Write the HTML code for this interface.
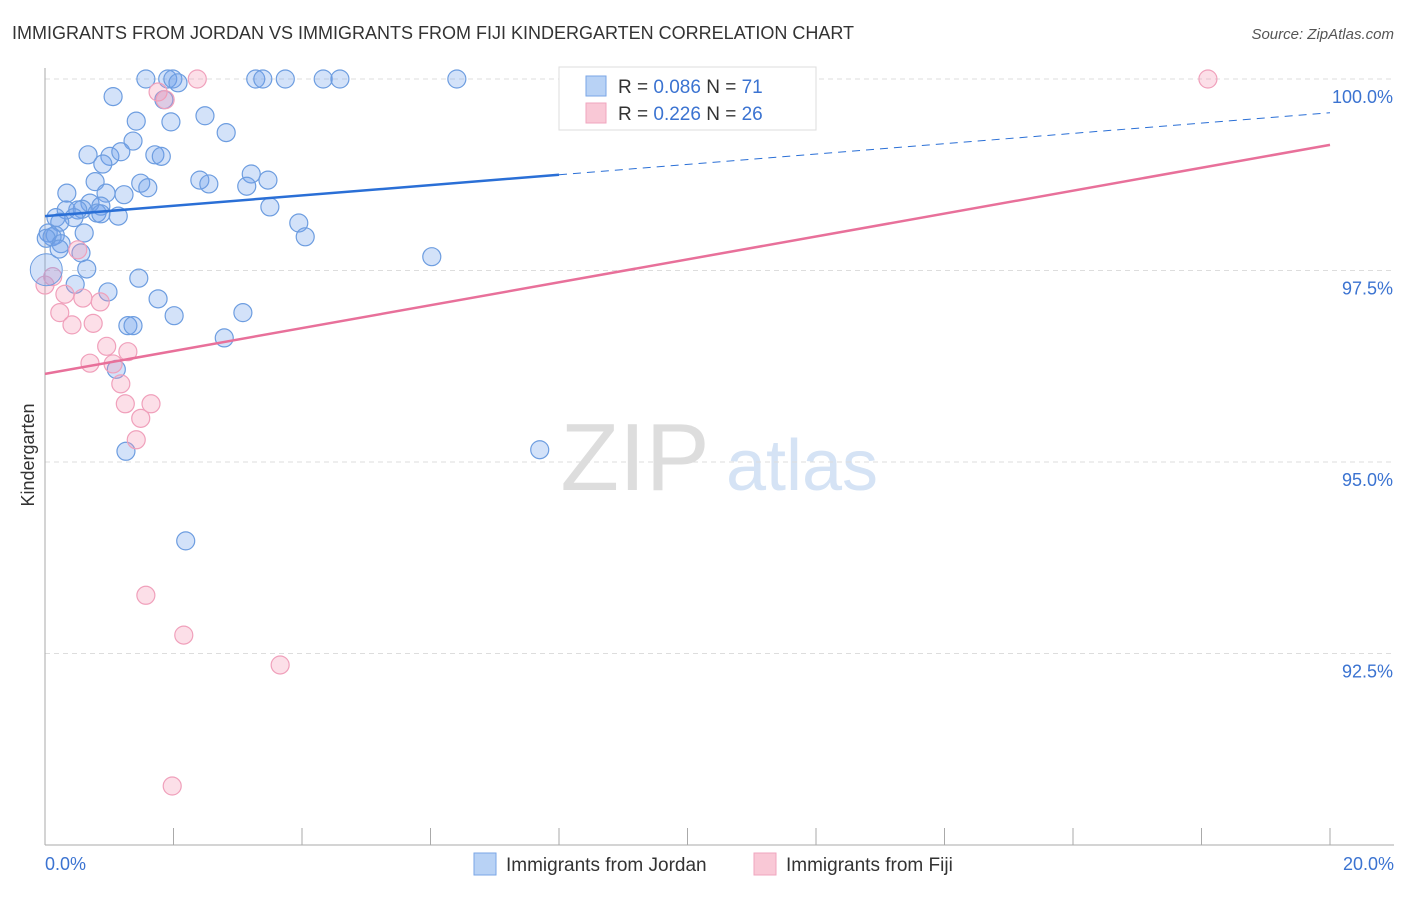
<!DOCTYPE html>
<html><head><meta charset="utf-8"><style>
body{margin:0;background:#fff;font-family:"Liberation Sans",sans-serif}
svg text{font-family:"Liberation Sans",sans-serif}
</style></head><body>
<svg width="1406" height="892" xmlns="http://www.w3.org/2000/svg">
<text x="12" y="39" font-size="18" fill="#333">IMMIGRANTS FROM JORDAN VS IMMIGRANTS FROM FIJI KINDERGARTEN CORRELATION CHART</text>
<text x="1394" y="39" font-size="15" fill="#555" font-style="italic" text-anchor="end">Source: ZipAtlas.com</text>
<g>
<text x="635" y="490" font-size="96" fill="#ddd" font-family="Liberation Serif" text-anchor="middle">ZIP</text>
<text x="802" y="490" font-size="72" fill="#d5e3f5" text-anchor="middle">atlas</text>
</g>
<g id="grid"></g>
<g id="axes"></g>
<g id="marks"></g>
<text x="34" y="455" font-size="18" fill="#333" text-anchor="middle" transform="rotate(-90 34 455)">Kindergarten</text>
<g>
<rect x="559" y="67" width="257" height="63" fill="#fff" stroke="#ddd"/>
<rect x="586" y="76" width="20" height="20" fill="#b8d2f5" stroke="#7aa6e6"/>
<rect x="586" y="103" width="20" height="20" fill="#f9c8d6" stroke="#f0a6bf"/>
<text x="618" y="93" font-size="19" fill="#333">R = <tspan fill="#3b73d1">0.086</tspan>   N = <tspan fill="#3b73d1">71</tspan></text>
<text x="618" y="120" font-size="19" fill="#333">R = <tspan fill="#3b73d1">0.226</tspan>   N = <tspan fill="#3b73d1">26</tspan></text>
</g>
<g>
<rect x="474" y="853" width="22" height="22" fill="#b8d2f5" stroke="#7aa6e6"/>
<text x="506" y="871" font-size="19" fill="#333">Immigrants from Jordan</text>
<rect x="754" y="853" width="22" height="22" fill="#f9c8d6" stroke="#f0a6bf"/>
<text x="786" y="871" font-size="19" fill="#333">Immigrants from Fiji</text>
</g>
</svg>
<script>
const jordanX=[1.57,1.91,1.99,2.07,3.28,3.39,3.74,4.33,4.59,6.41,1.06,1.85,1.42,1.96,2.49,2.82,1.37,0.67,1.01,1.18,1.71,1.81,0.90,3.21,3.47,2.41,2.55,3.14,1.49,1.60,0.78,0.34,0.95,1.23,0.70,0.87,0.58,0.33,0.51,0.81,0.87,1.14,0.17,0.45,0.23,3.50,3.95,4.05,0.61,0.05,0.16,0.11,0.02,0.25,0.22,0.56,0.65,1.46,0.47,0.98,1.76,2.01,3.08,1.29,1.37,2.79,1.11,6.02,1.26,7.70,2.19];
const jordanY=[100,100,100,99.95,100,100,100,100,100,100,99.77,99.73,99.45,99.44,99.52,99.30,99.19,99.01,98.99,99.05,99.01,98.99,98.89,98.76,98.68,98.68,98.63,98.60,98.64,98.58,98.66,98.51,98.51,98.49,98.38,98.34,98.30,98.29,98.29,98.25,98.24,98.21,98.19,98.19,98.13,98.33,98.12,97.94,97.99,97.99,97.96,97.94,97.92,97.85,97.78,97.73,97.52,97.40,97.32,97.22,97.13,96.91,96.95,96.78,96.78,96.62,96.21,97.68,95.14,95.16,93.97];
const fijiX=[2.37,18.10,1.76,1.87,0.12,0.00,0.31,0.59,0.86,0.23,0.42,0.75,0.96,1.29,0.70,1.06,1.18,1.25,1.65,1.49,1.42,1.57,2.16,3.66,1.98,0.51];
const fijiY=[100,100,99.83,99.73,97.42,97.31,97.19,97.14,97.09,96.95,96.79,96.81,96.51,96.44,96.29,96.28,96.02,95.76,95.76,95.57,95.29,93.26,92.74,92.35,90.77,97.77];
const jordanTrend=[98.21,99.56];
const fijiTrend=[96.15,99.14];
const yTicks=[100,97.5,95,92.5];
const yTickLabels=["100.0%","97.5%","95.0%","92.5%"];
const xEnds=["0.0%","20.0%"];
const NS="http://www.w3.org/2000/svg";
const sx=v=>45+v*64.25, sy=v=>79+(100-v)*76.6;
function mk(t,a,p){const e=document.createElementNS(NS,t);for(const k in a)e.setAttribute(k,a[k]);p.appendChild(e);return e;}
const grid=document.getElementById('grid'),axes=document.getElementById('axes'),marks=document.getElementById('marks');
yTicks.forEach((v,i)=>{
 const l=mk('line',{x1:45,x2:1394,y1:sy(v),y2:sy(v),stroke:'#ddd','stroke-dasharray':'5,4'},grid);
 
 
 const t=mk('text',{x:1393,y:sy(v)+24,'font-size':18,fill:'#3b73d1','text-anchor':'end'},axes);
 t.textContent=yTickLabels[i];
 
 
});
const ax=mk('line',{x1:45,x2:45,y1:68,y2:845,stroke:'#aaa'},axes);


const bx=mk('line',{x1:45,x2:1394,y1:845,y2:845,stroke:'#aaa'},axes);


for(let i=0;i<=10;i++){const tk=mk('line',{x1:sx(i*2),x2:sx(i*2),y1:828,y2:845,stroke:'#aaa'},axes);
 
 }
[[0,'start'],[20,'end']].forEach((d,i)=>{const t=mk('text',{x:i?1394:45,y:870,'font-size':18,fill:'#3b73d1','text-anchor':d[1]},axes);t.textContent=xEnds[i];
 
 });
function pts(X,Y,fill,stroke,name){X.forEach((x,i)=>{const c=mk('circle',{cx:sx(x),cy:sy(Y[i]),r:9,fill:fill,stroke:stroke,'stroke-width':1.2},marks);
 
 });}
pts(jordanX,jordanY,'rgba(110,160,235,0.3)','#6d9de0','jordan-point');
pts(fijiX,fijiY,'rgba(245,150,180,0.3)','#f0a0bb','fiji-point');
const big1=mk('circle',{cx:sx(0.02),cy:sy(97.51),r:16,fill:'rgba(110,160,235,0.3)',stroke:'#6d9de0'},marks);


const jy=x=>jordanTrend[0]+(jordanTrend[1]-jordanTrend[0])*x/20;
const l1=mk('line',{x1:sx(0),y1:sy(jy(0)),x2:sx(8),y2:sy(jy(8)),stroke:'#2a6fd6','stroke-width':2.5},marks);


const l2=mk('line',{x1:sx(8),y1:sy(jy(8)),x2:sx(20),y2:sy(jy(20)),stroke:'#2a6fd6','stroke-width':1,'stroke-dasharray':'8,6'},marks);


const l3=mk('line',{x1:sx(0),y1:sy(fijiTrend[0]),x2:sx(20),y2:sy(fijiTrend[1]),stroke:'#e8709a','stroke-width':2.5},marks);


</script>
</body></html>
